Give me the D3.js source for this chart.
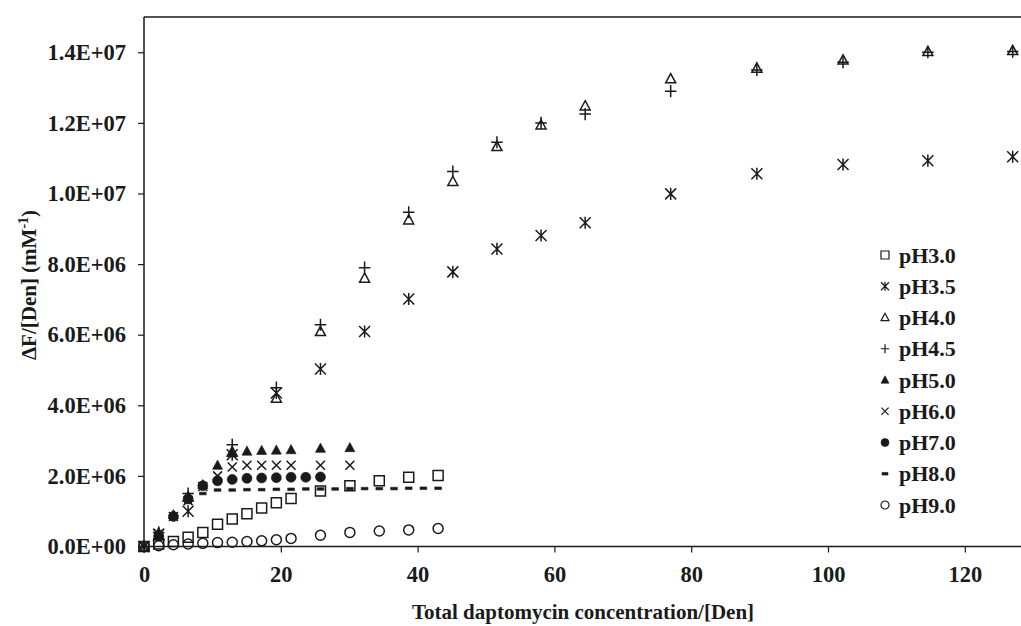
<!DOCTYPE html>
<html>
<head>
<meta charset="utf-8">
<script src="https://cdn.jsdelivr.net/npm/d3@7/dist/d3.min.js"></script>
<style>
  html, body { margin: 0; padding: 0; background: #fff; }
  svg { display: block; }
  text { font-family: "Liberation Serif", "Times New Roman", serif; font-weight: bold; fill: #1a1a1a; }
</style>
</head>
<body>
<svg id="chart" width="1021" height="626"></svg>
<script>
// Concentration grids (x) used by the different titrations
const xFine = [2.15, 4.3, 6.45, 8.6, 10.75, 12.9, 15.05, 17.2, 19.35, 21.5, 23.65, 25.8, 27.95, 30.1, 32.25, 34.4, 36.55, 38.7, 40.85, 43.0];
const xMixed = [0, 2.15, 4.3, 6.45, 8.6, 10.75, 12.9, 15.05, 17.2, 19.35, 21.5, 25.8, 30.1, 34.4, 38.7, 43.0];
const xShort = [2.15, 4.3, 6.45, 8.6, 10.75, 12.9, 15.05, 17.2, 19.35, 21.5, 25.8, 30.1];
const xPH7 = [2.15, 4.3, 6.45, 8.6, 10.75, 12.9, 15.05, 17.2, 19.35, 21.5, 23.65, 25.8];
const xWide = [0, 2.15, 6.45, 12.9, 19.35, 25.8, 32.25, 38.7, 45.15, 51.6, 58.05, 64.5, 77.0, 89.6, 102.2, 114.6, 127.0];

// ΔF/[Den] values (mM^-1)
const pH30 = [0, 0.07e6, 0.14e6, 0.26e6, 0.40e6, 0.63e6, 0.78e6, 0.93e6, 1.09e6, 1.24e6, 1.36e6, 1.57e6, 1.72e6, 1.86e6, 1.96e6, 2.01e6];
const pH35 = [0, 0.35e6, 1.0e6, 2.6e6, 4.35e6, 5.03e6, 6.09e6, 7.01e6, 7.78e6, 8.43e6, 8.81e6, 9.17e6, 9.99e6, 10.56e6, 10.82e6, 10.93e6, 11.04e6];
const pH40 = [0, 0.3e6, 1.4e6, 2.68e6, 4.2e6, 6.09e6, 7.6e6, 9.25e6, 10.34e6, 11.33e6, 11.94e6, 12.48e6, 13.25e6, 13.55e6, 13.78e6, 14.02e6, 14.05e6];
const pH45 = [0, 0.4e6, 1.5e6, 2.88e6, 4.5e6, 6.28e6, 7.9e6, 9.47e6, 10.62e6, 11.45e6, 12.0e6, 12.25e6, 12.9e6, 13.5e6, 13.72e6, 14.0e6, 14.02e6];
const pH50 = [0.4e6, 0.9e6, 1.4e6, 1.75e6, 2.3e6, 2.65e6, 2.7e6, 2.72e6, 2.73e6, 2.74e6, 2.78e6, 2.8e6];
const pH60 = [0.35e6, 0.85e6, 1.3e6, 1.7e6, 2.0e6, 2.25e6, 2.3e6, 2.3e6, 2.3e6, 2.3e6, 2.3e6, 2.3e6];
const pH70 = [0.3e6, 0.85e6, 1.35e6, 1.72e6, 1.86e6, 1.9e6, 1.93e6, 1.94e6, 1.95e6, 1.96e6, 1.96e6, 1.97e6];
const pH80 = [0.28e6, 0.8e6, 1.25e6, 1.5e6, 1.6e6, 1.6e6, 1.61e6, 1.61e6, 1.62e6, 1.62e6, 1.63e6, 1.63e6, 1.63e6, 1.64e6, 1.64e6, 1.64e6, 1.64e6, 1.65e6, 1.65e6, 1.65e6];
const pH90 = [0, 0.02e6, 0.05e6, 0.07e6, 0.09e6, 0.11e6, 0.12e6, 0.14e6, 0.16e6, 0.19e6, 0.23e6, 0.32e6, 0.40e6, 0.44e6, 0.47e6, 0.51e6];

const seriesNames = ["pH3.0", "pH3.5", "pH4.0", "pH4.5", "pH5.0", "pH6.0", "pH7.0", "pH8.0", "pH9.0"];
const seriesX = [xMixed, xWide, xWide, xWide, xShort, xShort, xPH7, xFine, xMixed];
const seriesY = [pH30, pH35, pH40, pH45, pH50, pH60, pH70, pH80, pH90];
const seriesMarker = ["square", "asterisk", "triangle", "plus", "triangleFilled", "cross", "dot", "dash", "circle"];

const xTicks = [0, 20, 40, 60, 80, 100, 120];
const yTicks = [0, 2e6, 4e6, 6e6, 8e6, 10e6, 12e6, 14e6];

const ink = "#1a1a1a";
const svg = d3.select("#chart");
svg.append("rect").attr("width", 1021).attr("height", 626).attr("fill", "#fff");

const margin = { left: 144, top: 17, bottom: 546.5 };
const x = d3.scaleLinear().domain([0, 130]).range([margin.left, margin.left + 130 * 6.84]);
const y = d3.scaleLinear().domain([0, 1.5e7]).range([margin.bottom, margin.top]);

// Marker outlines, centred at the origin; s is the nominal width in px
function markerPath(type, s) {
  const a = s / 2;
  switch (type) {
    case "square": return `M${-a},${-a}H${a}V${a}H${-a}Z`;
    case "asterisk": return `M${-a},${-a}L${a},${a}M${-a},${a}L${a},${-a}M0,${-a * 1.1}V${a * 1.1}`;
    case "triangle":
    case "triangleFilled": return `M0,${-a * 1.05}L${a},${a * 0.8}L${-a},${a * 0.8}Z`;
    case "plus": return `M${-a * 1.05},0H${a * 1.05}M0,${-a * 1.1}V${a * 1.1}`;
    case "cross": return `M${-a * 0.9},${-a * 0.9}L${a * 0.9},${a * 0.9}M${-a * 0.9},${a * 0.9}L${a * 0.9},${-a * 0.9}`;
    case "dot":
    case "circle": return d3.symbol(d3.symbolCircle, Math.PI * a * a)();
    case "dash": return `M${-a * 0.75},-1.3H${a * 0.75}V1.3H${-a * 0.75}Z`;
  }
}
function styleMarker(sel, type) {
  const filled = type === "triangleFilled" || type === "dot" || type === "dash";
  sel.attr("fill", filled ? ink : "none")
     .attr("stroke", ink)
     .attr("stroke-width", filled ? 0.6 : 1.5)
     .attr("stroke-linejoin", "miter");
}

// Frame: top border continues off to the right
svg.append("line").attr("x1", x(0)).attr("x2", 1021).attr("y1", y(1.5e7)).attr("y2", y(1.5e7))
  .attr("stroke", ink).attr("stroke-width", 1.5);

// Axes
const xAxis = d3.axisBottom(x).tickValues(xTicks).tickSize(6).tickPadding(14).tickFormat(d3.format("d"));
const gx = svg.append("g").attr("transform", `translate(0,${margin.bottom})`).call(xAxis);
const fmtE = v => {
  const [m, e] = v.toExponential(1).split("e");
  const n = Math.abs(+e);
  return `${m}E${+e < 0 ? "-" : "+"}${n < 10 ? "0" + n : n}`;
};
const yAxis = d3.axisLeft(y).tickValues(yTicks).tickSize(6).tickPadding(12).tickFormat(fmtE);
const gy = svg.append("g").attr("transform", `translate(${margin.left},0)`).call(yAxis);

[gx, gy].forEach(g => {
  g.select(".domain").attr("stroke", ink).attr("stroke-width", 1.5);
  g.selectAll(".tick line").attr("stroke", ink).attr("stroke-width", 1.2);
  g.selectAll(".tick text").attr("fill", ink).style("font-size", "22.5px")
    .style("font-family", '"Liberation Serif", serif').style("font-weight", "bold");
});
gx.select(".domain").attr("d", `M${x(0)},0H1021`);
gy.select(".domain").attr("d", `M0,${y(0)}V${y(1.5e7)}`);

// Axis titles
svg.append("text").attr("x", 583).attr("y", 619).attr("text-anchor", "middle")
  .style("font-size", "21px").text("Total daptomycin concentration/[Den]");
const yt = svg.append("text").attr("transform", "translate(36,285) rotate(-90)")
  .attr("text-anchor", "middle").style("font-size", "21px");
yt.append("tspan").text("ΔF/[Den] (mM");
yt.append("tspan").attr("dy", -8).style("font-size", "14px").text("-1");
yt.append("tspan").attr("dy", 8).text(")");

// Data points
const plot = svg.append("g");
seriesNames.forEach((name, i) => {
  const pts = seriesY[i].map((v, j) => [seriesX[i][j], v]);
  const type = seriesMarker[i];
  const size = type === "plus" || type === "asterisk" ? 11 : (type === "dash" ? 9 : 10);
  plot.append("g").attr("class", "series")
    .selectAll("path").data(pts).join("path")
    .attr("transform", d => `translate(${x(d[0])},${y(d[1])})`)
    .attr("d", markerPath(type, size))
    .call(styleMarker, type);
});

// Legend
const legend = svg.append("g").attr("transform", "translate(885,255)");
seriesNames.forEach((name, i) => {
  const row = legend.append("g").attr("transform", `translate(0,${i * 31.25})`);
  const type = seriesMarker[i];
  row.append("path").attr("d", markerPath(type, 8)).call(styleMarker, type)
    .attr("stroke-width", type === "dash" || type === "dot" || type === "triangleFilled" ? 0.6 : 1.2);
  row.append("text").attr("x", 14).attr("dy", "0.35em").style("font-size", "22px").text(name);
});
</script>
</body>
</html>
